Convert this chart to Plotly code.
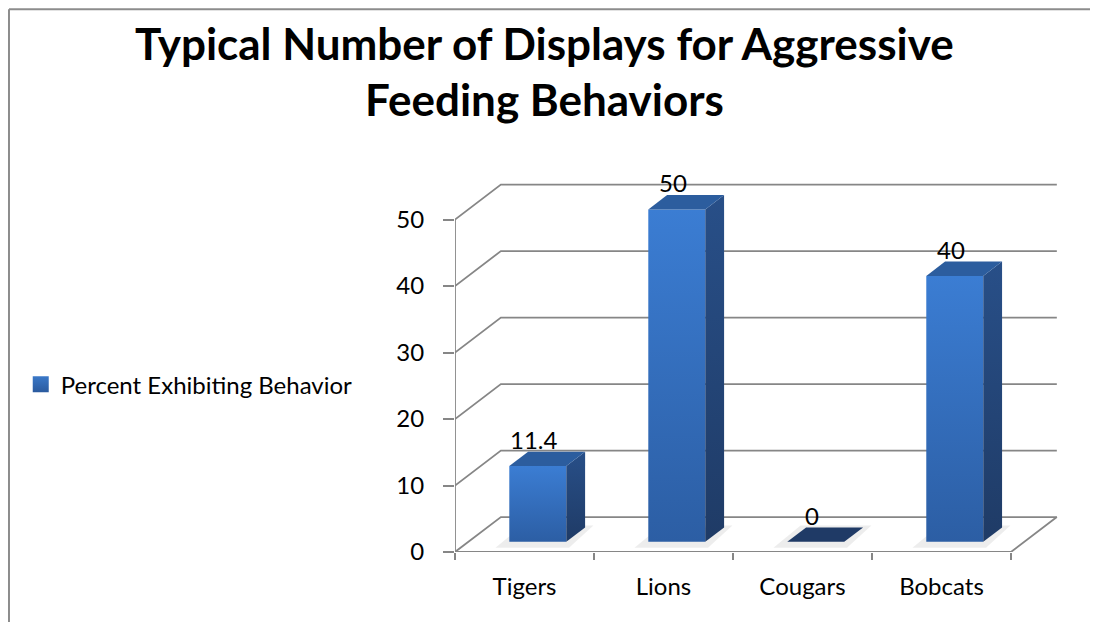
import plotly.graph_objects as go

# data
categories = ["Tigers", "Lions", "Cougars", "Bobcats"]
values = [11.4, 50, 0, 40]
value_labels = ["11.4", "50", "0", "40"]
y_ticks = [0, 10, 20, 30, 40, 50]
series_name = "Percent Exhibiting Behavior"

# 3d look (in axis units)
DX, DY = 0.33, 5.26          # depth offset of back wall
F0, F1 = 0.29, 0.70          # bar front / back depth fraction
HALF = 0.205                 # half bar width
GRID = "#868686"
FONT = "Lato"

fig = go.Figure()

# walls / floor lines
gx, gy = [], []
n = len(categories)
for v in y_ticks:
    gx += [0, DX, n + DX, None]
    gy += [v, v + DY, v + DY, None]
gx += [0, 0, None, 0, n, n + DX, None]
gy += [0, y_ticks[-1], None, 0, 0, DY, None]
fig.add_trace(go.Scatter(x=gx, y=gy, mode="lines", line=dict(color=GRID, width=1.8),
                         hoverinfo="skip", showlegend=False))

# bars
bx, by = (F1 - F0) * DX, (F1 - F0) * DY
for i, v in enumerate(values):
    cx = i + 0.5
    x0, x1 = cx - HALF + F0 * DX, cx + HALF + F0 * DX
    y0 = F0 * DY
    y1 = y0 + v
    # soft shadow
    fig.add_trace(go.Scatter(
        x=[x0 - 0.1, x1 + 0.02, x1 + bx + 0.06, x0 + bx - 0.04, x0 - 0.1],
        y=[y0 - 0.9, y0 - 0.9, y0 + by + 0.3, y0 + by + 0.3, y0 - 0.9],
        fill="toself", fillcolor="rgba(0,0,0,0.07)", line=dict(width=0),
        mode="lines", hoverinfo="skip", showlegend=False))
    if v > 0:
        # front face
        fig.add_trace(go.Scatter(
            x=[x0, x1, x1, x0, x0], y=[y0, y0, y1, y1, y0],
            fill="toself", mode="lines", line=dict(width=0),
            fillgradient=dict(type="vertical", colorscale=[[0, "#2c5ea4"], [1, "#3b7dd3"]]),
            hoverinfo="skip", showlegend=False))
        # side face
        fig.add_trace(go.Scatter(
            x=[x1, x1 + bx, x1 + bx, x1, x1], y=[y0, y0 + by, y1 + by, y1, y0],
            fill="toself", mode="lines", line=dict(width=0),
            fillgradient=dict(type="vertical", colorscale=[[0, "#1f3b66"], [1, "#284f88"]]),
            hoverinfo="skip", showlegend=False))
    top_col = "#2c5d9e" if v > 0 else "#1f3a66"
    fig.add_trace(go.Scatter(
        x=[x0, x1, x1 + bx, x0 + bx, x0], y=[y1, y1, y1 + by, y1 + by, y1],
        fill="toself", fillcolor=top_col, mode="lines", line=dict(width=0),
        hoverinfo="skip", showlegend=False))
    fig.add_annotation(x=cx + 0.07, y=y1 + by, text=value_labels[i], showarrow=False,
                       xanchor="center", yanchor="bottom", yshift=-4,
                       font=dict(family=FONT, size=24, color="#000000"))

# legend entry
fig.add_trace(go.Scatter(
    x=[None], y=[None], mode="markers", name=series_name,
    marker=dict(symbol="square", size=16, color="#3a78c8",
                gradient=dict(type="vertical", color="#2a5a9e"))))

# title (two lines)
fig.add_annotation(xref="paper", yref="paper", x=0.1485, y=1.38,
                   text="<b>Typical Number of Displays for Aggressive</b>",
                   showarrow=False, xanchor="center", yanchor="middle",
                   font=dict(family=FONT, size=44, color="#000000"))
fig.add_annotation(xref="paper", yref="paper", x=0.1485, y=1.228,
                   text="<b>Feeding Behaviors</b>",
                   showarrow=False, xanchor="center", yanchor="middle",
                   font=dict(family=FONT, size=44, color="#000000"))

# chart frame (left and top edges; the rest runs off the picture)
frame = dict(color="#8c8c8c", width=2)
fig.add_shape(type="line", xref="paper", yref="paper",
              x0=-0.736, y0=-0.25, x1=-0.736, y1=1.471, line=frame)
fig.add_shape(type="line", xref="paper", yref="paper",
              x0=-0.736, y0=1.471, x1=1.2, y1=1.471, line=frame)

fig.update_layout(
    width=1090, height=614, autosize=False,
    margin=dict(l=447, r=37, t=175, b=69.7, autoexpand=False),
    plot_bgcolor="white", paper_bgcolor="white",
    font=dict(family=FONT, size=24, color="#000000"),
    showlegend=True,
    legend=dict(x=-0.7166, y=0.4536, xanchor="left", yanchor="middle",
                font=dict(family=FONT, size=24), itemwidth=30,
                bgcolor="rgba(0,0,0,0)"),
)
fig.update_xaxes(range=[0, n + DX + 0.03], tickmode="array",
                 tickvals=[i + 0.5 for i in range(n)], ticktext=categories,
                 ticks="", showgrid=False, zeroline=False, showline=False,
                 ticklabelstandoff=18,
                 minor=dict(tickmode="array", tickvals=list(range(n + 1)), ticks="outside",
                            ticklen=7, tickwidth=1.8, tickcolor=GRID, showgrid=False))
fig.update_yaxes(range=[0, 55.5], tickmode="array", tickvals=y_ticks,
                 ticks="outside", ticklen=11, tickwidth=1.8, tickcolor=GRID,
                 showgrid=False, zeroline=False, showline=False,
                 ticklabelstandoff=14)

fig.write_html("out.html")
